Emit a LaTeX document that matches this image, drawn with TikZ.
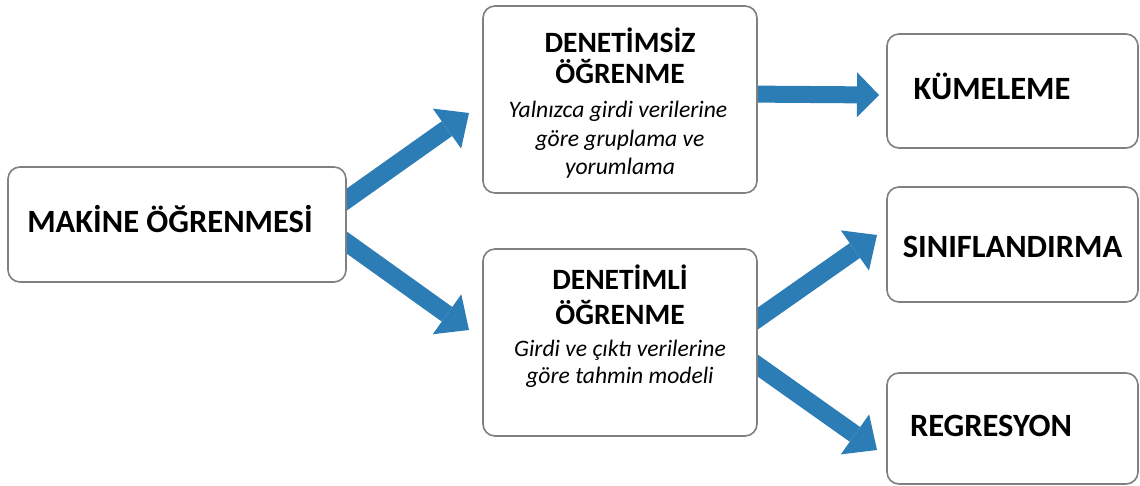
\documentclass[tikz,border=0pt]{standalone}
\usepackage{fontspec}
\setmainfont{Carlito}
\usetikzlibrary{arrows.meta,calc,backgrounds}
\definecolor{flow}{RGB}{44,125,182}
\definecolor{frame}{RGB}{128,128,128}
\tikzset{
  box/.style={draw=frame, line width=1.6pt, rounded corners=12pt, fill=white,
              inner sep=0pt, outer sep=0pt},
  title/.style={anchor=base, inner sep=0pt, font=\fontsize{32.5}{36}\selectfont\bfseries},
  subtitle/.style={anchor=base, inner sep=0pt, font=\fontsize{29.5}{33}\selectfont\bfseries},
  note/.style={anchor=base, inner sep=0pt, font=\fontsize{23.6}{28}\selectfont\itshape},
  flowarrow/.style={draw=flow, line width=18pt,
              -{Triangle[width=49pt,length=27pt,line width=0pt]}},
  thinflow/.style={draw=flow, line width=17pt,
              -{Triangle[width=45pt,length=22pt,line width=0pt]}}
}
\begin{document}
\begin{tikzpicture}[x=1pt,y=-1pt]
\useasboundingbox (0,0) rectangle (1140,486);

% boxes
\node[box, minimum width=338pt, minimum height=115pt] (mk)  at (177,224.5) {};
\node[box, minimum width=274pt, minimum height=187pt] (uns) at (620,99.5) {};
\node[box, minimum width=274pt, minimum height=187pt] (sup) at (620,342.5) {};
\node[box, minimum width=251pt, minimum height=114pt] (kum) at (1012.5,91) {};
\node[box, minimum width=251pt, minimum height=115pt] (sin) at (1012.5,244.5) {};
\node[box, minimum width=251pt, minimum height=111pt] (reg) at (1012.5,428.5) {};

% texts
\node[title] (mk-t) at (170,233) {MAKİNE ÖĞRENMESİ};

\node[subtitle] (uns-t1) at (620,53) {DENETİMSİZ};
\node[subtitle] (uns-t2) at (620,83.5) {ÖĞRENME};
\node[note]  (uns-n1) at (618,118) {Yalnızca girdi verilerine};
\node[note]  (uns-n2) at (620,146.5) {göre gruplama ve};
\node[note]  (uns-n3) at (620,175) {yorumlama};

\node[subtitle] (sup-t1) at (620,290) {DENETİMLİ};
\node[subtitle] (sup-t2) at (620,324) {ÖĞRENME};
\node[note]  (sup-n1) at (620,356) {Girdi ve çıktı verilerine};
\node[note]  (sup-n2) at (620,383.5) {göre tahmin modeli};

\node[title] (kum-t) at (992,100) {KÜMELEME};
\node[title] (sin-t) at (1012.5,258) {SINIFLANDIRMA};
\node[title] (reg-t) at (991,436) {REGRESYON};

% white page and connectors, kept behind the boxes
\begin{scope}[on background layer]
\fill[white] (0,0) rectangle (1140,486);
\draw[flowarrow] ($(mk.center)+(148,-9.5)$)  -- ($(uns.west)+(-14,13.5)$);
\draw[flowarrow] ($(mk.center)+(148,2.5)$)   -- ($(sup.west)+(-14,-12.5)$);
\draw[thinflow]  ($(uns.east)+(-17,-5.5)$)   -- ($(kum.west)+(-8,4)$);
\draw[flowarrow] ($(sup.east)+(-17,-11.5)$)  -- ($(sin.west)+(-10,-9.5)$);
\draw[flowarrow] ($(sup.east)+(-17,10.5)$)   -- ($(reg.west)+(-10,21.5)$);
\end{scope}
\end{tikzpicture}
\end{document}
